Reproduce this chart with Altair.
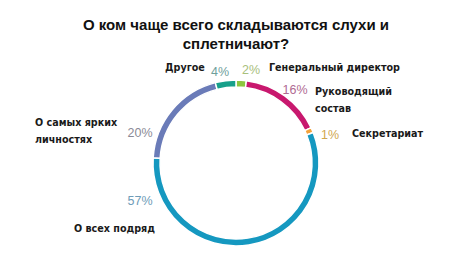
import altair as alt
import pandas as pd

# ---- data ----
categories = ["Генеральный директор", "Руководящий состав", "Секретариат",
              "О всех подряд", "О самых ярких личностях", "Другое"]
values = [2, 16, 1, 57, 20, 4]
slice_colors = ["#8cc63e", "#c8186e", "#f4a23a", "#1598c0", "#6a7bb8", "#16a08a"]
pct_colors = ["#a8c07c", "#b06a92", "#d0a850", "#6e9cb8", "#8a8a96", "#6f9f9c"]
title_lines = ["О ком чаще всего складываются слухи и", "сплетничают?"]
label_lines = [["Генеральный директор"], ["Руководящий", "состав"], ["Секретариат"],
               ["О всех подряд"], ["О самых ярких", "личностях"], ["Другое"]]

# ---- layout (annotation placement) ----
CX, CY = 236, 163
pct_pos = [(251, 70), (295, 90), (330, 135), (140, 201), (140, 133), (220, 72)]
label_pos = [(269, 68), (315, 92), (352, 134), (74, 229), (35, 123), (165, 68)]

df = pd.DataFrame({
    "category": categories,
    "value": values,
    "order": list(range(len(categories))),
})

arc = alt.Chart(df).mark_arc(
    innerRadius=76, outerRadius=83, stroke="white", strokeWidth=1.5
).encode(
    theta=alt.Theta("value:Q", stack=True),
    order=alt.Order("order:Q"),
    color=alt.Color("category:N", scale=alt.Scale(domain=categories, range=slice_colors), legend=None),
    x=alt.value(CX),
    y=alt.value(CY),
)

layers = [arc]

# title
title_df = pd.DataFrame({"t": [title_lines]})
layers.append(
    alt.Chart(title_df).mark_text(
        font="Liberation Sans", fontSize=15, fontWeight="bold", color="#111111",
        align="center", baseline="middle", lineHeight=19
    ).encode(text="t:N", x=alt.value(236), y=alt.value(25))
)

for i, cat in enumerate(categories):
    # percentage label
    pdf = pd.DataFrame({"t": [f"{values[i]}%"]})
    layers.append(
        alt.Chart(pdf).mark_text(
            font="Liberation Sans", fontSize=12.5, color=pct_colors[i],
            align="center", baseline="middle"
        ).encode(text="t:N", x=alt.value(pct_pos[i][0]), y=alt.value(pct_pos[i][1]))
    )
    # category label
    ldf = pd.DataFrame({"t": [label_lines[i]]})
    layers.append(
        alt.Chart(ldf).mark_text(
            font="DejaVu Sans", fontSize=9.6, fontWeight="bold", color="#1a1a1a",
            align="left", baseline="middle", lineHeight=17
        ).encode(text="t:N", x=alt.value(label_pos[i][0]), y=alt.value(label_pos[i][1]))
    )

chart = alt.layer(*layers).properties(
    width=460, height=268,
    autosize=alt.AutoSizeParams(type="none"),
    padding=0,
    background="white",
).configure_view(stroke=None)

chart.save("out.html", embed_options={"renderer": "svg", "actions": False})
